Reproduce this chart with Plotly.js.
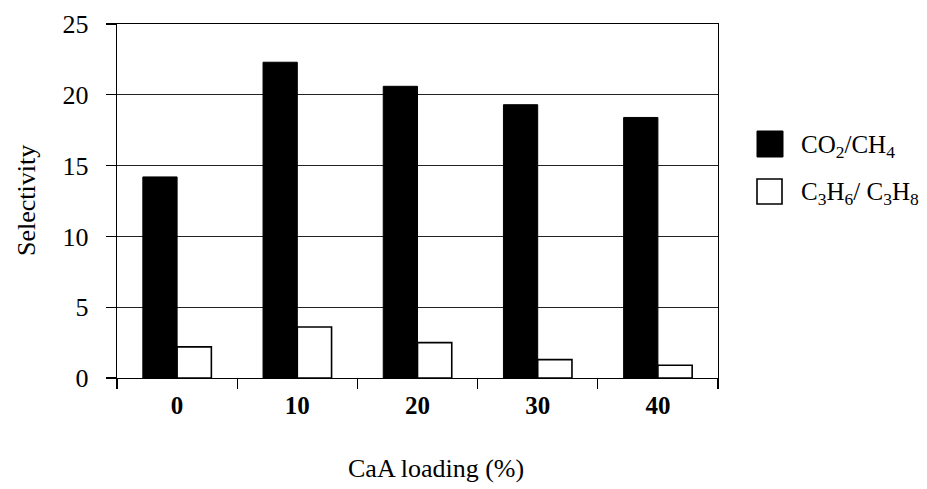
<!DOCTYPE html>
<html>
<head>
<meta charset="utf-8">
<script src="https://cdn.plot.ly/plotly-3.0.1.min.js"></script>
<style>html,body{margin:0;padding:0;background:#fff;}#chart{width:927px;height:489px;}</style>
</head>
<body>
<div id="chart"></div>
<script>
const categories = ["0", "10", "20", "30", "40"];
const co2ch4 = [14.2, 22.3, 20.6, 19.3, 18.4];
const c3h6c3h8 = [2.2, 3.6, 2.5, 1.3, 0.9];
const seriesNames = ["CO<sub>2</sub>/CH<sub>4</sub>", "C<sub>3</sub>H<sub>6</sub>/ C<sub>3</sub>H<sub>8</sub>"];
const yTicks = [0, 5, 10, 15, 20, 25];

const serif = "Liberation Serif, Times New Roman, serif";

const traces = [
  {type: "bar", x: categories, y: co2ch4, name: seriesNames[0],
   marker: {color: "#000000", line: {color: "#000000", width: 1}}, showlegend: false},
  {type: "bar", x: categories, y: c3h6c3h8, name: seriesNames[1],
   marker: {color: "#ffffff", line: {color: "#000000", width: 1.6}}, showlegend: false}
];

const layout = {
  width: 927, height: 489,
  margin: {l: 117, r: 209, t: 24, b: 111},
  paper_bgcolor: "#ffffff", plot_bgcolor: "#ffffff",
  barmode: "group", bargap: 0.43, bargroupgap: 0.0,
  font: {family: serif, color: "#000"},
  xaxis: {
    type: "category", tickson: "boundaries",
    ticks: "outside", ticklen: 10, tickwidth: 1.3, tickcolor: "#000",
    showline: true, linecolor: "#000", linewidth: 1.3, mirror: true,
    showgrid: false, zeroline: false,
    tickfont: {family: serif, size: 25, weight: "bold"},
    ticklabelstandoff: 5
  },
  yaxis: {
    range: [0, 25], tickvals: yTicks,
    ticks: "outside", ticklen: 10, tickwidth: 1.3, tickcolor: "#000",
    showline: true, linecolor: "#000", linewidth: 1.3, mirror: true,
    showgrid: true, gridcolor: "#222", gridwidth: 1.2, zeroline: false,
    tickfont: {family: serif, size: 26},
    ticklabelstandoff: 12
  },
  annotations: [
    {text: "CaA loading (%)", xref: "paper", yref: "paper", x: (436-117)/601, y: (378-468)/354, showarrow: false,
     xanchor: "center", yanchor: "middle", font: {family: serif, size: 26}},
    {text: "Selectivity", xref: "paper", yref: "paper", x: (26-117)/601, y: 0.5, showarrow: false,
     textangle: -90, xanchor: "center", yanchor: "middle", font: {family: serif, size: 26}},
    {text: seriesNames[0], xref: "paper", yref: "paper", x: (799-117)/601, y: (378-146)/354, showarrow: false,
     xanchor: "left", yanchor: "middle", font: {family: serif, size: 25}},
    {text: seriesNames[1], xref: "paper", yref: "paper", x: (799-117)/601, y: (378-193)/354, showarrow: false,
     xanchor: "left", yanchor: "middle", font: {family: serif, size: 25}}
  ],
  shapes: [
    {type: "rect", xref: "paper", yref: "paper", x0: (757-117)/601, x1: (783-117)/601, y0: (378-157)/354, y1: (378-131)/354,
     fillcolor: "#000", line: {color: "#000", width: 1}},
    {type: "rect", xref: "paper", yref: "paper", x0: (757-117)/601, x1: (782-117)/601, y0: (378-204)/354, y1: (378-179)/354,
     fillcolor: "#fff", line: {color: "#000", width: 1.6}}
  ]
};

Plotly.newPlot("chart", traces, layout, {displayModeBar: false, staticPlot: true});
</script>
</body>
</html>
